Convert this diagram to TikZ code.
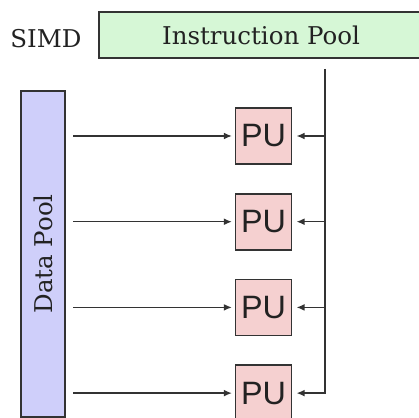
\documentclass[tikz,border=0pt]{standalone}
\usepackage{fontspec}
\newfontfamily\pufont{Liberation Sans}
\newfontfamily\poolfont{DejaVu Serif}
\usetikzlibrary{arrows.meta, positioning}
\usepackage{xcolor}
\definecolor{poolgreen}{HTML}{D6F7D6}
\definecolor{datablue}{HTML}{CFCFFA}
\definecolor{pupink}{HTML}{F5D0D0}
\definecolor{edgegray}{HTML}{333333}
\definecolor{textgray}{HTML}{222222}

\begin{document}
\begin{tikzpicture}[
    x=0.025cm, y=-0.025cm,
    node distance=0.7cm,
    pool/.style={draw=edgegray, line width=1.2pt, inner sep=0pt, text=textgray, font=\poolfont\fontsize{17.4}{20}\selectfont},
    pu/.style={draw=edgegray, line width=1.2pt, fill=pupink, minimum width=1.4cm, minimum height=1.4cm, inner sep=0pt, text=textgray, font=\pufont\fontsize{23}{24}\selectfont},
    arr/.style={-{Latex[length=2mm, width=1.7mm]}, line width=0.9pt, draw=edgegray},
]
\useasboundingbox (0,0) rectangle (419,418);

\node[pool, fill=poolgreen, minimum width=8.1cm, minimum height=1.15cm] (instr) at (261,35) {Instruction Pool};
\node[text=textgray, font=\poolfont\fontsize{17.4}{20}\selectfont] (simd) at (46,39) {SIMD};
\node[pool, fill=datablue, rotate=90, minimum width=8.15cm, minimum height=1.1cm] (data) at (43,254) {Data Pool};

\node[pu] (pu1) at (263.5,136) {PU};
\node[pu, below=of pu1] (pu2) {PU};
\node[pu, below=of pu2] (pu3) {PU};
\node[pu, below=of pu3] (pu4) {PU};

\coordinate (bus) at (325,69);

\draw[arr, shorten <=0.18cm, shorten >=2pt] (data.south |- pu1) -- (pu1);
\draw[arr, shorten <=0.18cm, shorten >=2pt] (data.south |- pu2) -- (pu2);
\draw[arr, shorten <=0.18cm, shorten >=2pt] (data.south |- pu3) -- (pu3);
\draw[arr, shorten <=0.18cm, shorten >=2pt] (data.south |- pu4) -- (pu4);

\draw[arr, shorten >=3pt] (bus |- pu1) -- (pu1);
\draw[arr, shorten >=3pt] (bus |- pu2) -- (pu2);
\draw[arr, shorten >=3pt] (bus |- pu3) -- (pu3);
\draw[arr, shorten >=3pt] (bus) |- (pu4);

\end{tikzpicture}
\end{document}
